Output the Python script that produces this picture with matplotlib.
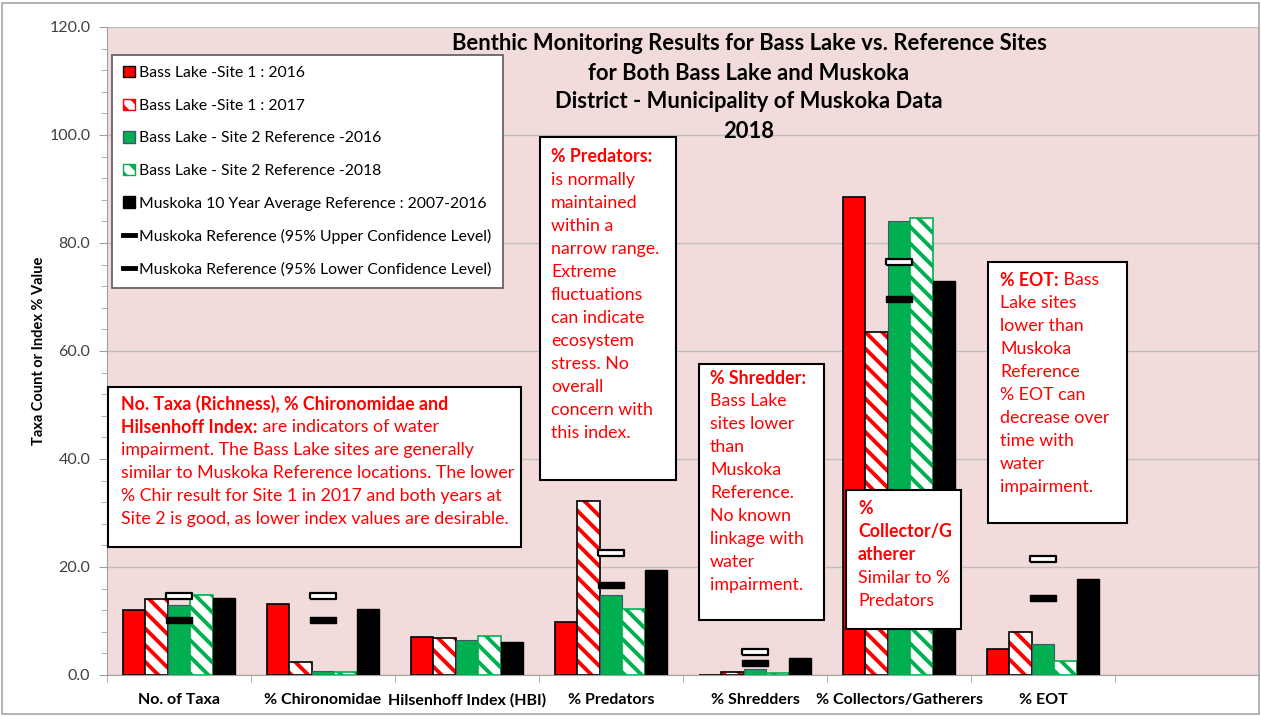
import numpy as np
import matplotlib
matplotlib.use("Agg")
import matplotlib.pyplot as plt
from matplotlib.patches import Rectangle, Patch
from matplotlib.lines import Line2D
from matplotlib.ticker import MultipleLocator, FormatStrFormatter

plt.rcParams['font.family'] = ['Lato', 'DejaVu Sans']
plt.rcParams['hatch.linewidth'] = 2.8

# ---------------- data ----------------
categories = ["No. of Taxa", "% Chironomidae", "Hilsenhoff Index (HBI)", "% Predators",
              "% Shredders", "% Collectors/Gatherers", "% EOT"]
site1_2016 = [12.0, 13.1, 7.0, 9.9, 0.0, 88.5, 4.75]
site1_2017 = [14.0, 2.4, 6.85, 32.2, 0.5, 63.5, 8.0]
site2_2016 = [13.0, 0.8, 6.5, 14.8, 1.05, 84.1, 5.7]
site2_2018 = [14.9, 0.55, 7.15, 12.3, 0.3, 84.7, 2.6]
muskoka_avg = [14.25, 12.3, 6.15, 19.4, 3.1, 72.9, 17.7]
upper_cl = [14.7, 14.7, np.nan, 22.6, 4.25, 76.5, 21.5]
lower_cl = [10.2, 10.2, np.nan, 16.7, 2.3, 69.6, 14.2]

legend_labels = ["Bass Lake -Site 1 : 2016", "Bass Lake -Site 1 : 2017",
                 "Bass Lake - Site 2 Reference -2016", "Bass Lake - Site 2 Reference -2018",
                 "Muskoka 10 Year Average Reference : 2007-2016",
                 "Muskoka Reference (95% Upper Confidence Level)",
                 "Muskoka Reference (95% Lower Confidence Level)"]

title_lines = ["Benthic Monitoring Results for Bass Lake vs. Reference Sites",
               "for Both Bass Lake and Muskoka",
               "District - Municipality of Muskoka Data",
               "2018"]

RED = "#FF0000"
GREEN = "#00B050"
PINK = "#F2DCDB"

W, H = 1261, 717
fig = plt.figure(figsize=(W / 100, H / 100), dpi=100)
fig.patch.set_facecolor("white")

def fx(x):
    return x / W

def fy(y):
    return 1 - y / H

ax = fig.add_axes([fx(107), fy(675), fx(1259) - fx(107), fy(27) - fy(675)])
ax.set_facecolor(PINK)

n = len(categories)
x = np.arange(n)
bw = 0.156
offsets = np.array([-2, -1, 0, 1, 2]) * bw

ax.bar(x + offsets[0], site1_2016, bw, color=RED, edgecolor="black", linewidth=1.2, zorder=3)
ax.bar(x + offsets[1], site1_2017, bw, color="white", edgecolor=RED, hatch="\\\\", linewidth=0, zorder=3)
ax.bar(x + offsets[1], site1_2017, bw, color="none", edgecolor="black", linewidth=1.2, zorder=3)
ax.bar(x + offsets[2], site2_2016, bw, color=GREEN, edgecolor="#44546A", linewidth=0.8, zorder=3)
ax.bar(x + offsets[3], site2_2018, bw, color="white", edgecolor=GREEN, hatch="\\\\", linewidth=0, zorder=3)
ax.bar(x + offsets[3], site2_2018, bw, color="none", edgecolor=GREEN, linewidth=1.2, zorder=3)
ax.bar(x + offsets[4], muskoka_avg, bw, color="black", edgecolor="black", linewidth=1.0, zorder=3)

rect_marker = [(-1, -0.26), (1, -0.26), (1, 0.26), (-1, 0.26), (-1, -0.26)]
ax.plot(x, upper_cl, linestyle="none", marker=rect_marker, markersize=19,
        markerfacecolor="white", markeredgecolor="black", markeredgewidth=1.6, zorder=4)
ax.plot(x, lower_cl, linestyle="none", marker=rect_marker, markersize=19,
        markerfacecolor="black", markeredgecolor="black", markeredgewidth=1.0, zorder=4)

ax.set_xlim(-0.5, n + 0.5)
ax.set_ylim(0, 120)
ax.yaxis.set_major_locator(MultipleLocator(20))
ax.yaxis.set_minor_locator(MultipleLocator(4))
ax.yaxis.set_major_formatter(FormatStrFormatter("%.1f"))
ax.grid(axis="y", color="#BFBFBF", linewidth=1.0, zorder=0)
ax.set_axisbelow(True)
ax.set_xticks(x)
ax.set_xticklabels(categories, fontsize=11.5, fontweight="bold")
ax.set_xticks(np.arange(-0.5, n + 1, 1.0), minor=True)
ax.tick_params(axis="x", which="major", length=0, pad=13)
ax.tick_params(axis="x", which="minor", length=5, color="#A0A0A0")
ax.tick_params(axis="y", which="major", length=6, color="#A0A0A0", labelsize=11.5,
               labelcolor="#404040", pad=6)
ax.tick_params(axis="y", which="minor", length=4, color="#A0A0A0")
for s in ["top", "right"]:
    ax.spines[s].set_visible(False)
for s in ["left", "bottom"]:
    ax.spines[s].set_color("#A0A0A0")
ax.set_ylabel("Taxa Count or Index % Value", fontsize=10.5, fontweight="bold", labelpad=2)

# figure border
fig.add_artist(Rectangle((fx(2), fy(714)), fx(1257), fy(3) - fy(714), transform=fig.transFigure,
                         fill=False, edgecolor="#A6A6A6", linewidth=1.2))

# title
for i, t in enumerate(title_lines):
    fig.text(fx(749), fy(44 + i * 29), t, ha="center", va="center", fontsize=15.8,
             fontweight="bold", color="black")

# legend
handles = [Patch(facecolor=RED, edgecolor="black"),
           Patch(facecolor="white", edgecolor=RED, hatch="\\\\"),
           Patch(facecolor=GREEN, edgecolor="#44546A"),
           Patch(facecolor="white", edgecolor=GREEN, hatch="\\\\"),
           Patch(facecolor="black", edgecolor="black"),
           Line2D([], [], color="black", linewidth=3.5),
           Line2D([], [], color="black", linewidth=3.5)]
leg = fig.legend(handles, legend_labels, loc="upper left",
                 bbox_to_anchor=(fx(112), fy(55)), borderaxespad=0, fontsize=11.3,
                 frameon=True, fancybox=False, edgecolor="#595959", framealpha=1,
                 handlelength=0.75, handleheight=0.75, handletextpad=0.3,
                 labelspacing=1.17, borderpad=0.7)
leg.get_frame().set_linewidth(1.2)

# text boxes
renderer = fig.canvas.get_renderer()

def box(x0, y0, x1, y1):
    fig.add_artist(Rectangle((fx(x0), fy(y1)), fx(x1) - fx(x0), fy(y0) - fy(y1),
                             transform=fig.transFigure, facecolor="white",
                             edgecolor="black", linewidth=1.5, zorder=5))

def lines(x0, y0, dy, rows, size=12.8):
    for i, row in enumerate(rows):
        cx = x0
        for seg, bold in row:
            t = fig.text(fx(cx), fy(y0 + i * dy), seg, ha="left", va="center",
                         fontsize=size, color=RED, fontweight="bold" if bold else "normal",
                         zorder=6)
            bb = t.get_window_extent(renderer=renderer)
            cx += bb.width

box(108, 387, 521, 547)
lines(121, 404, 23, [
    [("No. Taxa (Richness), % Chironomidae and", True)],
    [("Hilsenhoff Index:", True), (" are indicators of water", False)],
    [("impairment. The Bass Lake sites are generally", False)],
    [("similar to Muskoka Reference locations. The lower", False)],
    [("% Chir result for Site 1 in 2017 and both years at", False)],
    [("Site 2 is good, as lower index values are desirable.", False)],
])

box(540, 137, 676, 480)
lines(551, 157, 23, [[(s, i == 0)] for i, s in enumerate(
    ["% Predators:", "is normally", "maintained", "within a", "narrow range.", "Extreme",
     "fluctuations", "can indicate", "ecosystem", "stress. No", "overall",
     "concern with", "this index."])])

box(699, 364, 824, 620)
lines(710, 378, 23, [[(s, i == 0)] for i, s in enumerate(
    ["% Shredder:", "Bass Lake", "sites lower", "than", "Muskoka", "Reference.",
     "No known", "linkage with", "water", "impairment."])])

box(846, 490, 961, 629)
lines(858, 508, 23.3, [[(s, i < 3)] for i, s in enumerate(
    ["%", "Collector/G", "atherer", "Similar to %", "Predators"])])

box(988, 262, 1127, 523)
lines(1000, 280, 23, [[("% EOT:", True), (" Bass", False)]] + [[(s, False)] for s in
    ["Lake sites", "lower than", "Muskoka", "Reference", "% EOT can", "decrease over",
     "time with", "water", "impairment."]])

fig.savefig("out.png", dpi=100)
